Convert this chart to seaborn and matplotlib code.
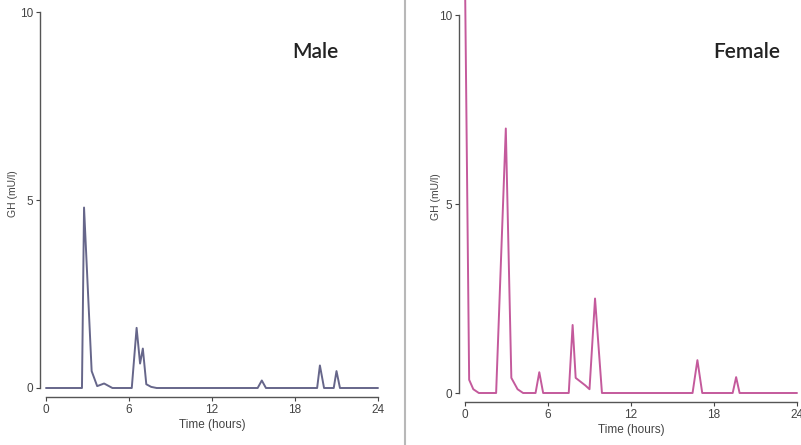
import pandas as pd
import seaborn as sns
import matplotlib.pyplot as plt
from matplotlib.lines import Line2D

# GH pulse profiles over 24 h
male_time = [0, 2.6, 2.75, 3.3, 3.7, 4.2, 4.8, 6.2, 6.55, 6.8, 7.0, 7.25, 7.6, 8.0,
             15.3, 15.6, 15.9, 19.6, 19.8, 20.1, 20.8, 21.0, 21.25, 24]
male_gh = [0, 0, 4.8, 0.45, 0.05, 0.12, 0, 0, 1.6, 0.65, 1.05, 0.1, 0.03, 0,
           0, 0.2, 0, 0, 0.6, 0, 0, 0.45, 0, 0]

female_time = [0, 0.3, 0.6, 1.0, 2.25, 2.95, 3.35, 3.8, 4.2, 5.1, 5.37, 5.65, 7.5, 7.78,
               8.0, 8.7, 9.0, 9.4, 9.9, 16.45, 16.8, 17.15, 19.35, 19.6, 19.85, 24]
female_gh = [11, 0.35, 0.1, 0, 0, 7.0, 0.4, 0.1, 0, 0, 0.55, 0, 0, 1.8,
             0.4, 0.2, 0.1, 2.5, 0, 0, 0.87, 0, 0, 0.42, 0, 0]

x_ticks = [0, 6, 12, 18, 24]
y_ticks = [0, 5, 10]

df_m = pd.DataFrame({'time': male_time, 'gh': male_gh})
df_f = pd.DataFrame({'time': female_time, 'gh': female_gh})

sns.set_style('ticks')
plt.rcParams['font.family'] = ['Liberation Sans', 'DejaVu Sans']

fig = plt.figure(figsize=(8.01, 4.45), dpi=100)
W, H = 801, 445

# 左图 / 右图 位置 (像素换算)
ax1 = fig.add_axes([46 / W, 57 / H, 332 / W, 388 / H])
ax2 = fig.add_axes([465 / W, 52 / H, 332 / W, 393 / H])

panels = [
    (ax1, df_m, '#66668a', 'Male', 10.32, 315, 1.0),
    (ax2, df_f, '#c45a9c', 'Female', 10.4, 747, -2.0),
]

for ax, df, col, label, ytop, lx, lpad in panels:
    sns.lineplot(x='time', y='gh', data=df, ax=ax, color=col, linewidth=1.4)
    for l in ax.lines:
        l.set_clip_on(False)
    ax.set_xlim(0, 24)
    ax.set_ylim(0, ytop)
    ax.set_xticks(x_ticks)
    ax.set_yticks(y_ticks)
    ax.set_xlabel('Time (hours)', fontsize=8.5, color='#444444', labelpad=2)
    ax.set_ylabel('GH (mU/l)', fontsize=7.5, color='#444444', labelpad=lpad)
    ax.tick_params(labelsize=8.5, colors='#444444', length=3, width=0.8, pad=2)
    sns.despine(ax=ax, offset={'left': 4.5, 'bottom': 6.5})
    ax.spines['left'].set_bounds(0, 10)
    ax.spines['bottom'].set_bounds(0, 24)
    for s in ['left', 'bottom']:
        ax.spines[s].set_color('#555555')
        ax.spines[s].set_linewidth(1.0)
    fig.text(lx / W, 1 - 52 / H, label, fontsize=15, color='#222222', weight='semibold',
             ha='center', va='center', family=['Lato', 'DejaVu Sans'])

# 中间的分隔线
fig.add_artist(Line2D([405 / W, 405 / W], [0, 1], color='#b8b8b8', linewidth=1.5))

plt.savefig('out.png', dpi=100)
